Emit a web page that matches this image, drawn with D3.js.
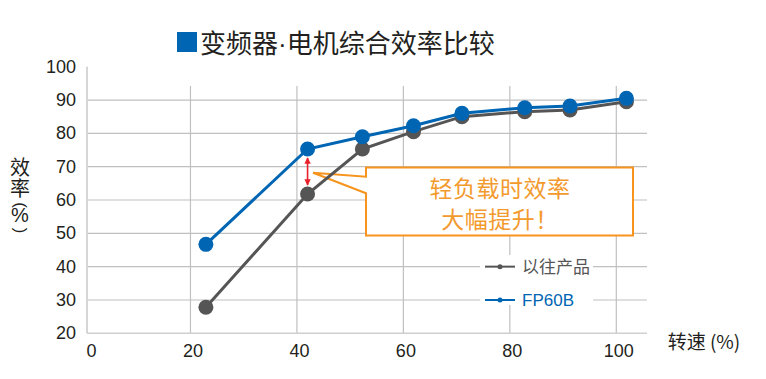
<!DOCTYPE html>
<html>
<head>
<meta charset="utf-8">
<script src="https://cdn.jsdelivr.net/npm/d3@7"></script>
<style>
  html, body { margin: 0; padding: 0; background: #fff; }
  svg { display: block; }
</style>
</head>
<body>
<svg id="chart" width="766" height="379"></svg>
<script>
// ---- data ----
const titleParts = ["变频器", "·", "电机综合效率比较"];
const seriesNames = ["以往产品", "FP60B"];
const speeds = [22.9, 42.0, 52.3, 61.9, 71.0, 82.8, 91.3, 101.9];
const oldValues = [27.8, 61.8, 75.3, 80.5, 85.0, 86.5, 87.0, 89.5];
const fp60bValues = [46.7, 75.3, 79.0, 82.3, 86.0, 87.7, 88.2, 90.5];
const xTicks = [0, 20, 40, 60, 80, 100];
const yTicks = [20, 30, 40, 50, 60, 70, 80, 90, 100];
const xGridTicks = [20, 40, 60, 80, 100];
const yGridTicks = [30, 40, 50, 60, 70, 80, 90];
const legendLevels = [40, 30];
const calloutLines = ["轻负载时效率", "大幅提升！"];
const xTitle = "转速 (%)";
const yTitleChars = ["效", "率"];
const yTitleUnit = ["(", "%", ")"];

// ---- styles ----
const BLUE = "#0065b3", GRAY = "#555555", ORANGE = "#f7941d", ORANGE_TXT = "#f39a2e", RED = "#e8202a";
const GRID = "#c0c0c0";
const NUM_FONT = "'Liberation Sans', Arial, sans-serif";
const CJK_FONT = "'Noto Sans CJK SC', 'Noto Sans', sans-serif";

const svg = d3.select("#chart");
const x = d3.scaleLinear().domain([0, 100]).range([84, 616.3]);
const y = d3.scaleLinear().domain([20, 100]).range([333.3, 66.7]);
const plotLeft = 87, plotRight = 647, gridTop = 86;

// grid
const g = svg.append("g");
g.selectAll("line.hg").data(yGridTicks).join("line")
  .attr("x1", plotLeft).attr("x2", plotRight)
  .attr("y1", d => y(d)).attr("y2", d => y(d))
  .attr("stroke", GRID).attr("stroke-width", 1.2);
g.selectAll("line.vg").data(xGridTicks).join("line")
  .attr("x1", d => x(d)).attr("x2", d => x(d))
  .attr("y1", gridTop).attr("y2", y(20))
  .attr("stroke", GRID).attr("stroke-width", 1.2);
// axis lines
g.append("line").attr("x1", plotLeft).attr("x2", plotLeft).attr("y1", y(100)).attr("y2", y(20))
  .attr("stroke", "#d6d6d6").attr("stroke-width", 2);
g.append("line").attr("x1", plotLeft).attr("x2", plotRight).attr("y1", y(20)).attr("y2", y(20))
  .attr("stroke", "#d0d0d0").attr("stroke-width", 1.5);

// axes labels via d3 axes
const yAxis = svg.append("g").attr("transform", "translate(76,0)")
  .call(d3.axisLeft(y).tickValues(yTicks).tickSize(0).tickPadding(0).tickFormat(d3.format("d")));
yAxis.select(".domain").remove();
yAxis.selectAll("text").attr("font-family", NUM_FONT).attr("font-size", 18).attr("fill", "#231f20")
  .attr("dy", "0.3em");

const xAxis = svg.append("g").attr("transform", "translate(2,346)")
  .call(d3.axisBottom(x).tickValues(xTicks).tickSize(0).tickPadding(0).tickFormat(d3.format("d")));
xAxis.select(".domain").remove();
xAxis.selectAll("text").attr("font-family", NUM_FONT).attr("font-size", 18).attr("fill", "#231f20")
  .attr("dy", "0.3em").attr("y", 6)
  .attr("dx", d => d === 0 ? 5 : 0);

// axis titles
svg.append("text").attr("x", 704).attr("y", 349).attr("text-anchor", "middle")
  .attr("font-family", CJK_FONT).attr("font-size", 19).attr("fill", "#231f20").text(xTitle);
const yt = svg.append("text").attr("text-anchor", "middle")
  .attr("font-family", CJK_FONT).attr("font-size", 20).attr("fill", "#231f20");
yTitleChars.forEach((c, i) => {
  yt.append("tspan").attr("x", 20).attr("y", 175 + i * 21).text(c);
});
// vertical "(%)": parentheses turned, percent upright
svg.append("text").attr("x", 20).attr("y", 222).attr("text-anchor", "middle")
  .attr("font-family", NUM_FONT).attr("font-size", 20).attr("fill", "#231f20").text(yTitleUnit[1]);
[[yTitleUnit[0], 205], [yTitleUnit[2], 230.5]].forEach(([ch, cy]) => {
  svg.append("text").attr("transform", `translate(20,${cy}) rotate(90)`)
    .attr("text-anchor", "middle").attr("dominant-baseline", "central")
    .attr("font-family", NUM_FONT).attr("font-size", 17).attr("fill", "#231f20").text(ch);
});

// title
svg.append("rect").attr("x", 177).attr("y", 32).attr("width", 20).attr("height", 20).attr("fill", BLUE);
const tt = svg.append("text").attr("x", 200).attr("y", 52.5).attr("font-size", 26).attr("fill", "#231f20");
titleParts.forEach((p, i) => {
  tt.append("tspan").attr("font-family", i === 1 ? NUM_FONT : CJK_FONT).text(p);
});

// callout box
const bx0 = 366, bx1 = 633, by0 = 167.5, by1 = 235.5;
const tipX = x(42.0) + 5.5, tipY = 172.7;
svg.append("path")
  .attr("d", `M${bx0},${by0} L${bx1},${by0} L${bx1},${by1} L${bx0},${by1} L${bx0},193.3 L${tipX},${tipY} L${bx0},176.7 Z`)
  .attr("fill", "#fff").attr("stroke", ORANGE).attr("stroke-width", 2);
svg.selectAll("text.co").data(calloutLines).join("text")
  .attr("x", 500).attr("y", (d, i) => 196.5 + i * 31).attr("text-anchor", "middle")
  .attr("font-family", CJK_FONT).attr("font-size", 23).attr("letter-spacing", 0.5)
  .attr("fill", ORANGE_TXT).text(d => d);

// red double arrow
const defs = svg.append("defs");
defs.append("marker").attr("id", "ah").attr("viewBox", "0 0 10 10").attr("refX", 9).attr("refY", 5)
  .attr("markerWidth", 4).attr("markerHeight", 4).attr("orient", "auto-start-reverse")
  .append("path").attr("d", "M0,0 L10,5 L0,10 Z").attr("fill", RED);
svg.append("line").attr("x1", x(42.0)).attr("x2", x(42.0))
  .attr("y1", y(fp60bValues[1]) + 9).attr("y2", y(oldValues[1]) - 9)
  .attr("stroke", RED).attr("stroke-width", 1.6)
  .attr("marker-start", "url(#ah)").attr("marker-end", "url(#ah)");

// series
const line = d3.line().x((d, i) => x(speeds[i])).y(d => y(d));
const series = [
  { name: seriesNames[0], values: oldValues, color: GRAY },
  { name: seriesNames[1], values: fp60bValues, color: BLUE }
];
series.forEach(s => {
  svg.append("path").attr("d", line(s.values)).attr("fill", "none")
    .attr("stroke", s.color).attr("stroke-width", 3);
  svg.selectAll(null).data(s.values).join("circle")
    .attr("cx", (d, i) => x(speeds[i])).attr("cy", d => y(d)).attr("r", 7.5)
    .attr("fill", s.color);
});

// legend
svg.append("rect").attr("x", 480).attr("y", 255).attr("width", 113).attr("height", 50).attr("fill", "#fff");
series.forEach((s, i) => {
  const ly = y(legendLevels[i]);
  const lg = svg.append("g");
  lg.append("line").attr("x1", 485).attr("x2", 515).attr("y1", ly).attr("y2", ly)
    .attr("stroke", s.color).attr("stroke-width", 2);
  lg.append("circle").attr("cx", 500).attr("cy", ly).attr("r", 2.5).attr("fill", s.color);
  lg.append("text").attr("x", 522).attr("y", ly + 6).attr("font-family", i === 0 ? CJK_FONT : NUM_FONT)
    .attr("font-size", 17).attr("fill", s.color).text(s.name);
});
</script>
</body>
</html>
